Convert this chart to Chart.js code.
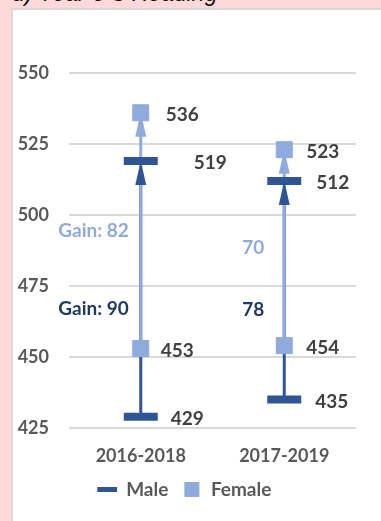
<!DOCTYPE html>
<html>
<head>
  <title>Year 3-5 Reading</title>
  <script src="https://cdn.jsdelivr.net/npm/chart.js"></script>
  <style>
    body {
      margin: 0;
      width: 381px;
      height: 521px;
      overflow: hidden;
      background: #ffd9d9;
      position: relative;
      font-family: Lato, sans-serif;
    }
    #title {
      position: absolute;
      left: 12px;
      top: -20px;
      font-family: "Liberation Sans", sans-serif;
      font-style: italic;
      font-size: 23px;
      line-height: 26px;
      color: #111;
      white-space: nowrap;
    }
    .box {
      position: absolute;
      left: 11px;
      top: 8px;
      width: 370px;
      height: 513px;
      background: #fff;
      border-left: 2px solid #d9d9d9;
      border-top: 2px solid #d9d9d9;
      box-sizing: border-box;
    }
  </style>
</head>
<body>
  <div id="title">d) Year 3-5 Reading</div>
  <div class="box">
    <canvas id="chart" width="368" height="511"></canvas>
  </div>

  <script>
    // data
    const periods = ['2016-2018', '2017-2019'];
    const maleStart = [429, 435];
    const maleEnd = [519, 512];
    const femaleStart = [453, 454];
    const femaleEnd = [536, 523];
    const maleGainText = ['Gain: 90', '78'];
    const femaleGainText = ['Gain: 82', '70'];
    const yTicks = [425, 450, 475, 500, 525, 550];

    const MALE = '#2f5597';
    const MALE_TEXT = '#203864';
    const FEMALE = '#8faadc';
    const FONT = 'Lato, sans-serif';

    function pairs(starts, ends) {
      const out = [];
      periods.forEach((p, i) => {
        out.push({ x: p, y: starts[i] });
        out.push({ x: p, y: ends[i] });
      });
      return out;
    }

    function arrowHead(ctx, x, yTip, color) {
      ctx.fillStyle = color;
      ctx.beginPath();
      ctx.moveTo(x, yTip);
      ctx.lineTo(x - 5.5, yTip + 24);
      ctx.lineTo(x + 5.5, yTip + 24);
      ctx.closePath();
      ctx.fill();
    }

    // arrows behind the markers
    const arrows = {
      id: 'arrows',
      beforeDatasetsDraw(chart) {
        const ctx = chart.ctx;
        const xs = chart.scales.x, ys = chart.scales.y;
        ctx.save();
        ctx.lineWidth = 3;
        periods.forEach((p, i) => {
          const x = xs.getPixelForValue(i);
          ctx.strokeStyle = MALE;
          ctx.beginPath();
          ctx.moveTo(x, ys.getPixelForValue(maleStart[i]));
          ctx.lineTo(x, ys.getPixelForValue(maleEnd[i]) + 20);
          ctx.stroke();
          ctx.strokeStyle = FEMALE;
          ctx.beginPath();
          ctx.moveTo(x, ys.getPixelForValue(femaleStart[i]));
          ctx.lineTo(x, ys.getPixelForValue(femaleEnd[i]) + 20);
          ctx.stroke();
          arrowHead(ctx, x, ys.getPixelForValue(maleEnd[i]), MALE);
          arrowHead(ctx, x, ys.getPixelForValue(femaleEnd[i]), FEMALE);
        });
        ctx.restore();
      }
    };

    // value labels and gain labels
    const labels = {
      id: 'labels',
      afterDatasetsDraw(chart, args, opts) {
        const ctx = chart.ctx;
        const xs = chart.scales.x, ys = chart.scales.y;
        ctx.save();
        ctx.font = 'bold 19px ' + FONT;
        ctx.textBaseline = 'middle';
        ctx.textAlign = 'left';
        ctx.fillStyle = '#404040';
        const sets = [
          [maleStart, opts.maleStartDx], [maleEnd, opts.maleEndDx],
          [femaleStart, opts.femaleStartDx], [femaleEnd, opts.femaleEndDx]
        ];
        periods.forEach((p, i) => {
          const x = xs.getPixelForValue(i);
          sets.forEach(([vals, dx]) => {
            ctx.fillText(String(vals[i]), x + dx[i], ys.getPixelForValue(vals[i]) + 2);
          });
          ctx.textAlign = 'right';
          ctx.fillStyle = FEMALE;
          ctx.fillText(femaleGainText[i], x - opts.gainDx[i],
            ys.getPixelForValue((femaleStart[i] + femaleEnd[i]) / 2));
          ctx.fillStyle = MALE_TEXT;
          ctx.fillText(maleGainText[i], x - opts.gainDx[i],
            ys.getPixelForValue((maleStart[i] + maleEnd[i]) / 2) + 20);
          ctx.textAlign = 'left';
          ctx.fillStyle = '#404040';
        });
        ctx.restore();
      }
    };

    new Chart(document.getElementById('chart'), {
      type: 'line',
      data: {
        labels: periods,
        datasets: [
          {
            label: 'Male',
            data: pairs(maleStart, maleEnd),
            showLine: false,
            pointStyle: 'line',
            pointRadius: 17,
            pointBorderWidth: 8,
            pointBorderColor: MALE,
            pointBackgroundColor: MALE,
            borderColor: MALE,
            backgroundColor: MALE
          },
          {
            label: 'Female',
            data: pairs(femaleStart, femaleEnd),
            showLine: false,
            pointStyle: 'rect',
            pointRadius: 11.3,
            pointBorderWidth: 1,
            pointBorderColor: FEMALE,
            pointBackgroundColor: FEMALE,
            borderColor: FEMALE,
            backgroundColor: FEMALE
          }
        ]
      },
      options: {
        responsive: false,
        animation: false,
        events: [],
        layout: { padding: { top: 63, right: 25, left: 0, bottom: 12 } },
        scales: {
          x: {
            type: 'category',
            offset: true,
            afterFit(scale) { scale.height = 38; },
            grid: { display: false, drawTicks: false },
            border: { display: false },
            ticks: {
              color: '#595959',
              font: { family: FONT, size: 18, weight: 'bold' },
              padding: 17
            }
          },
          y: {
            min: 425,
            max: 550,
            afterBuildTicks(scale) {
              scale.ticks = yTicks.map(v => ({ value: v }));
            },
            afterFit(scale) { scale.width = 56; },
            grid: { color: '#d9d9d9', lineWidth: 2, drawTicks: false },
            border: { display: false },
            ticks: {
              color: '#595959',
              font: { family: FONT, size: 18, weight: 'bold' },
              padding: 20
            }
          }
        },
        plugins: {
          tooltip: { enabled: false },
          legend: {
            position: 'bottom',
            labels: {
              usePointStyle: true,
              color: '#595959',
              font: { family: FONT, size: 19, weight: 'bold' },
              padding: 14,
              boxHeight: 14,
              generateLabels(chart) {
                const items = Chart.defaults.plugins.legend.labels.generateLabels(chart);
                items.forEach(it => {
                  if (it.text === 'Male') it.lineWidth = 5;
                });
                return items;
              }
            }
          },
          labels: {
            maleStartDx: [30, 31],
            maleEndDx: [53, 32],
            femaleStartDx: [20, 22],
            femaleEndDx: [25, 22],
            gainDx: [12, 20]
          }
        }
      },
      plugins: [arrows, labels]
    });
  </script>
</body>
</html>
